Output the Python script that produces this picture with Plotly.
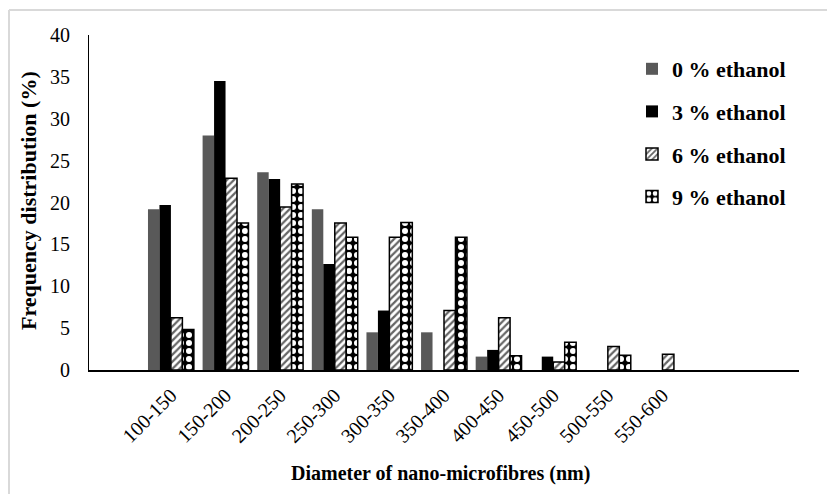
import plotly.graph_objects as go

categories = ["100-150", "150-200", "200-250", "250-300", "300-350",
              "350-400", "400-450", "450-500", "500-550", "550-600"]
eth0 = [19.2, 28.0, 23.6, 19.2, 4.5, 4.5, 1.6, None, None, None]
eth3 = [19.7, 34.5, 22.8, 12.65, 7.1, None, 2.4, 1.6, None, None]
eth6 = [6.25, 22.9, 19.45, 17.55, 15.85, 7.1, 6.25, 0.95, 2.8, 1.87]
eth9 = [4.85, 17.55, 22.2, 15.85, 17.6, 15.85, 1.7, 3.3, 1.75, None]
series_names = ["0 % ethanol", "3 % ethanol", "6 % ethanol", "9 % ethanol"]
y_ticks = [0, 5, 10, 15, 20, 25, 30, 35, 40]

SERIF = "Times New Roman, Liberation Serif, serif"

# the page body adds an 8px margin, so the figure is sized to fit inside it
W, H = 827, 486
ML, MR, MT, MB = 81, 36, 27, 124
PW, PH = W - ML - MR, H - MT - MB


def px_x(x):
    return (x - ML) / PW


def px_y(y):
    return (H - MB - y) / PH


fig = go.Figure()
fig.add_trace(go.Bar(x=categories, y=eth0, name=series_names[0], legendgroup="a",
                     marker=dict(color="#595959", line=dict(width=0))))
fig.add_trace(go.Bar(x=categories, y=eth3, name=series_names[1], legendgroup="b",
                     marker=dict(color="#000000", line=dict(width=0))))
fig.add_trace(go.Bar(x=categories, y=eth6, name=series_names[2], legendgroup="c",
                     marker=dict(color="white", line=dict(width=1.5, color="black"),
                                 pattern=dict(shape="/", fgcolor="#666666", bgcolor="white",
                                              size=5, solidity=0.45, fillmode="replace"))))
fig.add_trace(go.Bar(x=categories, y=eth9, name=series_names[3], legendgroup="d",
                     marker=dict(color="black", line=dict(width=1.5, color="black"),
                                 pattern=dict(shape=".", fgcolor="white", bgcolor="black",
                                              size=8, solidity=0.45, fillmode="replace"))))

fig.update_layout(
    width=W, height=H,
    margin=dict(l=ML, r=MR, t=MT, b=MB, autoexpand=False),
    paper_bgcolor="white", plot_bgcolor="white",
    barmode="group", bargap=0.16, bargroupgap=0,
    font=dict(family=SERIF, color="black"),
    showlegend=True,
    legend=dict(x=px_x(624), y=px_y(40), xanchor="left", yanchor="top",
                font=dict(family=SERIF, size=22, color="black", weight="bold"),
                tracegroupgap=11, traceorder="grouped", itemwidth=30,
                bgcolor="rgba(0,0,0,0)"),
    xaxis=dict(type="category", range=[-1.5, 11.5], showline=True, linecolor="black",
               linewidth=1.5, ticks="", tickangle=-45, showgrid=False,
               tickfont=dict(family=SERIF, size=20, color="black"),
               ticklabelstandoff=4),
    yaxis=dict(range=[0, 40], tickvals=y_ticks, showline=True, linecolor="black",
               linewidth=1, ticks="", showgrid=False, zeroline=False,
               tickfont=dict(family=SERIF, size=20, color="black"),
               ticklabelstandoff=14),
    annotations=[
        dict(text="<b>Frequency distribution (%)</b>", xref="paper", yref="paper",
             x=px_x(20), y=px_y(193), textangle=-90, showarrow=False,
             font=dict(family=SERIF, size=22, color="black"), xanchor="center", yanchor="middle"),
        dict(text="<b>Diameter of nano-microfibres (nm)</b>", xref="paper", yref="paper",
             x=px_x(432), y=px_y(465), showarrow=False,
             font=dict(family=SERIF, size=20, color="black"), xanchor="center", yanchor="middle"),
    ],
    shapes=[
        dict(type="line", xref="paper", yref="paper", x0=px_x(1), x1=px_x(1),
             y0=px_y(2), y1=px_y(H + 5), line=dict(color="#d9d9d9", width=2)),
        dict(type="line", xref="paper", yref="paper", x0=px_x(1), x1=px_x(W + 5),
             y0=px_y(2), y1=px_y(2), line=dict(color="#d9d9d9", width=2)),
    ],
)

fig.write_html("out.html")
